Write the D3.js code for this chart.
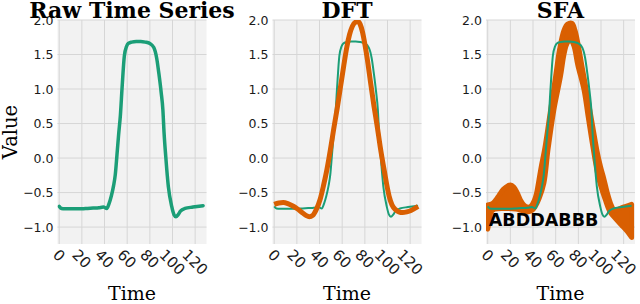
<!DOCTYPE html>
<html>
<head>
<meta charset="utf-8">
<script src="https://cdn.jsdelivr.net/npm/d3@7"></script>
<style>
  html, body { margin: 0; padding: 0; background: #fff; }
  svg { display: block; }
</style>
</head>
<body>
<div id="chart"></div>
<script>
// values: [time, value]
const rawSeries = [
  [0,-0.70],[2,-0.73],[5,-0.735],[10,-0.735],[15,-0.735],[20,-0.735],[25,-0.73],
  [30,-0.725],[35,-0.72],[39,-0.71],[42,-0.73],[44,-0.66],[46,-0.55],[48,-0.40],
  [49.5,-0.24],[51,0.05],[52.5,0.35],[54,0.62],[55.5,1.02],[57.5,1.48],[59.5,1.62],
  [61,1.66],[64,1.68],[68,1.69],[72,1.69],[76,1.68],[80,1.66],[83.5,1.60],[86,1.45],
  [88,1.22],[90,0.95],[91.5,0.70],[92.5,0.38],[94,0.03],[96.3,-0.41],[99.3,-0.70],
  [101.3,-0.82],[103,-0.85],[105,-0.82],[107,-0.77],[111,-0.73],[118,-0.71],[127,-0.69]
];

const dftSeries = [
  [0,-0.67],[4,-0.65],[8,-0.645],[12,-0.66],[16,-0.69],[20,-0.73],[24,-0.78],
  [28,-0.83],[31,-0.85],[34,-0.83],[37,-0.75],[40.5,-0.60],[43.5,-0.40],[46.5,-0.17],
  [49.6,0.12],[52.5,0.42],[55.6,0.72],[58.5,1.03],[61.4,1.34],[64,1.60],[66.5,1.79],
  [69,1.91],[71.8,1.97],[73.8,1.98],[75.8,1.94],[78,1.82],[80,1.65],[82.2,1.43],
  [85,1.10],[88.1,0.75],[91,0.45],[93.5,0.17],[97,-0.17],[101.4,-0.55],[104,-0.68],
  [107.3,-0.75],[110,-0.78],[113.3,-0.79],[117,-0.78],[120.7,-0.76],[124,-0.73],[127,-0.70]
];

// SFA: envelope of the reconstructions
const sfaUpper = [
  [0,-0.68],[4,-0.66],[7,-0.61],[10,-0.54],[14,-0.45],[18,-0.40],[20,-0.39],[23,-0.42],
  [26,-0.50],[29,-0.61],[32,-0.68],[35,-0.71],[38,-0.70],[41,-0.62],[43,-0.52],[44.8,-0.36],
  [47.3,-0.12],[50.2,0.12],[54.3,0.56],[60,1.19],[63.5,1.58],[67.3,1.85],[70.5,1.94],
  [74.5,1.95],[77,1.85],[79.5,1.67],[83.5,1.30],[87,0.99],[90.5,0.66],[93.5,0.38],[96.5,0.10],
  [99.5,-0.12],[102.5,-0.30],[105.5,-0.50],[108.5,-0.66],[111,-0.74],[114,-0.75],[118,-0.72],
  [122,-0.70],[127,-0.67]
];
const sfaLower = [
  [0,-1.03],[1.5,-0.90],[3,-0.78],[6,-0.74],[15,-0.73],[25,-0.74],[30,-0.76],[35,-0.78],
  [39,-0.76],[42,-0.70],[45.5,-0.58],[49.6,-0.36],[53.2,0.12],[58.4,0.70],[64.3,1.19],
  [67.3,1.50],[70,1.66],[73,1.71],[76,1.63],[79.5,1.35],[85,0.99],[88.5,0.62],[91.5,0.30],
  [94.5,0.0],[96.7,-0.20],[99.7,-0.40],[103.7,-0.60],[108,-0.78],[113,-0.88],[118,-0.97],
  [123,-1.06],[127,-1.15]
];

const titles = ["Raw Time Series", "DFT", "SFA"];
const xTicks = [0, 20, 40, 60, 80, 100, 120];
const yTicks = [-1.0, -0.5, 0.0, 0.5, 1.0, 1.5, 2.0];
const sfaWord = "ABDDABBB";
const sfaWordAt = [1, -0.99];

const green = "#1b9e77", orange = "#d95f02";

const width = 640, height = 304;
const plotTop = 20, plotH = 224, plotW = 149;
const lefts = [57.5, 272.5, 486];

const svg = d3.select("#chart").append("svg")
  .attr("width", width).attr("height", height);

const y = d3.scaleLinear().domain([-1.245, 2.0]).range([plotTop + plotH, plotTop]);

lefts.forEach((left, i) => {
  const x = d3.scaleLinear().domain([-1.5, 130]).range([left, left + plotW]);
  const g = svg.append("g");

  g.append("rect")
    .attr("x", left).attr("y", plotTop)
    .attr("width", plotW).attr("height", plotH)
    .attr("fill", "#f2f2f2");

  // grid
  g.selectAll("line.gx").data(xTicks).join("line")
    .attr("x1", d => x(d)).attr("x2", d => x(d))
    .attr("y1", plotTop).attr("y2", plotTop + plotH)
    .attr("stroke", "#d6d6d6").attr("stroke-width", 1);
  g.selectAll("line.gy").data(yTicks).join("line")
    .attr("x1", left).attr("x2", left + plotW)
    .attr("y1", d => y(d)).attr("y2", d => y(d))
    .attr("stroke", "#d6d6d6").attr("stroke-width", 1);

  // y tick labels
  g.selectAll("text.yt").data(yTicks).join("text")
    .attr("x", left - 4).attr("y", d => y(d))
    .attr("dy", "0.36em")
    .attr("text-anchor", "end")
    .attr("font-family", "DejaVu Sans").attr("font-size", 12.5)
    .attr("fill", "#1a1a1a")
    .text(d => d3.format(".1f")(d).replace("-", "\u2212"));

  // x tick labels, rotated
  const fs = 15;
  g.selectAll("text.xt").data(xTicks).join("text")
    .attr("font-family", "DejaVu Sans").attr("font-size", fs)
    .attr("fill", "#1a1a1a")
    .attr("text-anchor", "middle")
    .attr("dy", "0.36em")
    .text(d => d)
    .each(function(d) {
      const w = this.getComputedTextLength();
      const cy = 248 + (w + 0.73 * fs) * Math.SQRT1_2 / 2;
      d3.select(this).attr("x", x(d)).attr("y", cy)
        .attr("transform", `rotate(45,${x(d)},${cy})`);
    });

  // titles and labels
  g.append("text")
    .attr("x", left + plotW / 2).attr("y", 17.5)
    .attr("text-anchor", "middle")
    .attr("font-family", "DejaVu Serif").attr("font-weight", "bold")
    .attr("font-size", 22)
    .text(titles[i]);
  g.append("text")
    .attr("x", left + plotW / 2).attr("y", 300)
    .attr("text-anchor", "middle")
    .attr("font-family", "DejaVu Serif").attr("font-size", 19)
    .text("Time");

  // clip
  const clipId = "clip" + i;
  svg.append("clipPath").attr("id", clipId).append("rect")
    .attr("x", left).attr("y", plotTop).attr("width", plotW).attr("height", plotH);
  const plot = g.append("g").attr("clip-path", `url(#${clipId})`);

  const line = d3.line().x(d => x(d[0])).y(d => y(d[1])).curve(d3.curveMonotoneX);

  if (i === 0) {
    plot.append("path").attr("d", line(rawSeries))
      .attr("fill", "none").attr("stroke", green).attr("stroke-width", 3.5)
      .attr("stroke-linejoin", "round").attr("stroke-linecap", "round");
  } else if (i === 1) {
    plot.append("path").attr("d", line(rawSeries))
      .attr("fill", "none").attr("stroke", green).attr("stroke-width", 2);
    plot.append("path").attr("d", line(dftSeries))
      .attr("fill", "none").attr("stroke", orange).attr("stroke-width", 5)
      .attr("stroke-linejoin", "round");
  } else {
    const cr = d3.line().x(d => x(d[0])).y(d => y(d[1])).curve(d3.curveCatmullRom);
    const back = sfaLower.slice().reverse();
    const band = cr(sfaUpper) + "L" + cr(back).slice(1) + "Z";
    plot.append("path").attr("d", band)
      .attr("fill", orange).attr("stroke", orange).attr("stroke-width", 5)
      .attr("stroke-linejoin", "round");
    plot.append("path").attr("d", line(rawSeries))
      .attr("fill", "none").attr("stroke", green).attr("stroke-width", 2);
    g.append("text")
      .attr("x", x(sfaWordAt[0])).attr("y", y(sfaWordAt[1]))
      .attr("font-family", "DejaVu Sans").attr("font-weight", "bold")
      .attr("font-size", 17.5)
      .text(sfaWord);
  }
});

svg.append("text")
  .attr("transform", `translate(17,${plotTop + plotH / 2}) rotate(-90)`)
  .attr("text-anchor", "middle")
  .attr("font-family", "DejaVu Serif").attr("font-size", 19.5)
  .text("Value");
</script>
</body>
</html>
